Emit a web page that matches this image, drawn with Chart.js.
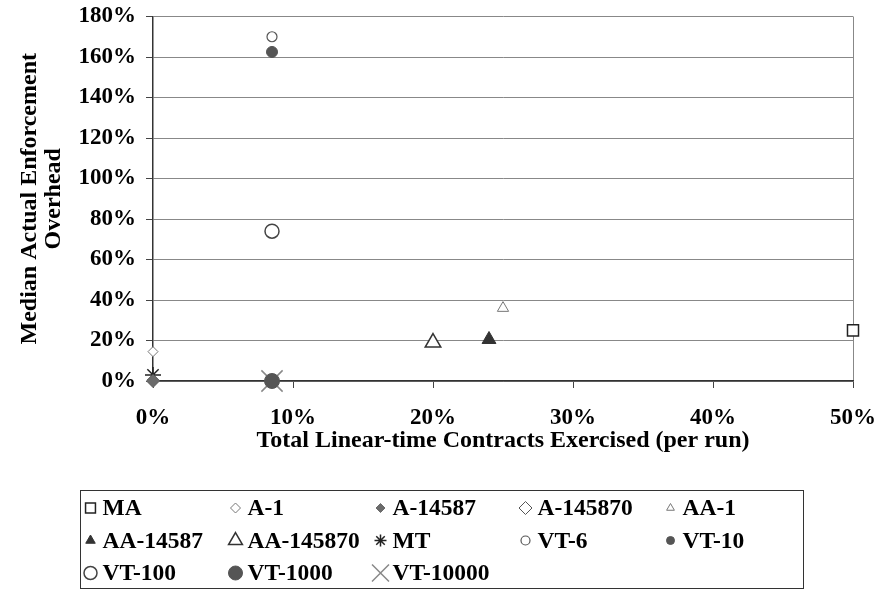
<!DOCTYPE html>
<html>
<head>
<meta charset="utf-8">
<title>Median Actual Enforcement Overhead</title>
<script src="https://cdn.jsdelivr.net/npm/chart.js@4.4.0/dist/chart.umd.min.js"></script>
<style>
    html, body { margin: 0; padding: 0; background: #fff; }
    #wrap { width: 878px; height: 592px; }
</style>
</head>
<body>
<div id="wrap"><canvas id="overheadChart" width="878" height="592"></canvas></div>
<script>
// === Data (in %) ===
const seriesNames = ["MA", "A-1", "A-14587", "A-145870", "AA-1",
                     "AA-14587", "AA-145870", "MT", "VT-6", "VT-10",
                     "VT-100", "VT-1000", "VT-10000"];
const contractsExercised = [50, 0, 0, 0, 25, 24, 20, 0, 8.5, 8.5, 8.5, 8.5, 8.5];
const medianOverhead = [25, 14.5, 0, 0, 36, 20.5, 19, 3, 170, 162.5, 74, 0, 0];
const xTickValues = [0, 10, 20, 30, 40, 50];
const yTickValues = [0, 20, 40, 60, 80, 100, 120, 140, 160, 180];

// marker look for each series: plot radius r, legend radius lr
const markerStyles = [
    { style: "rect",      r: 7.8, lr: 7,   fill: "#fff",    line: "#222", w: 1.5 },
    { style: "rectRot",   r: 5,   lr: 5,   fill: "#fff",    line: "#777", w: 1 },
    { style: "rectRot",   r: 6.5, lr: 4.5, fill: "#6b6b6b", line: "#6b6b6b", w: 1 },
    { style: "rectRot",   r: 6,   lr: 6.5, fill: "#fff",    line: "#555", w: 1 },
    { style: "triangle",  r: 6.5, lr: 4.5, fill: "#fff",    line: "#777", w: 1 },
    { style: "triangle",  r: 8,   lr: 5.5, fill: "#333",    line: "#333", w: 1 },
    { style: "triangle",  r: 9,   lr: 8,   fill: "#fff",    line: "#333", w: 1.5 },
    { style: "star",      r: 8,   lr: 6,   fill: "#fff",    line: "#222", w: 1.5 },
    { style: "circle",    r: 5,   lr: 4.5, fill: "#fff",    line: "#555", w: 1.2 },
    { style: "circle",    r: 5.5, lr: 4,   fill: "#555",    line: "#555", w: 1 },
    { style: "circle",    r: 7,   lr: 6.5, fill: "#fff",    line: "#444", w: 1.5 },
    { style: "circle",    r: 7.5, lr: 7,   fill: "#555",    line: "#555", w: 1 },
    { style: "crossRot",  r: 15,  lr: 12,  fill: "#fff",    line: "#888", w: 1.5 }
];

const serif = "'Liberation Serif', 'Times New Roman', serif";

// legend drawn as a 5 column grid in a box below the chart
const gridLegend = {
    id: "gridLegend",
    afterDraw(chart) {
        const ctx = chart.ctx;
        const box = { x: 80.5, y: 490.5, w: 723, h: 98 };
        ctx.save();
        ctx.strokeStyle = "#333";
        ctx.lineWidth = 1;
        ctx.strokeRect(box.x, box.y, box.w, box.h);
        ctx.font = "bold 23.5px " + serif;
        ctx.textBaseline = "middle";
        ctx.textAlign = "left";
        seriesNames.forEach((name, i) => {
            const col = i % 5;
            const row = Math.floor(i / 5);
            const mx = box.x + 10 + col * 145;
            const my = 508 + row * 32.5;
            const m = markerStyles[i];
            ctx.fillStyle = m.fill;
            ctx.strokeStyle = m.line;
            ctx.lineWidth = m.w;
            Chart.helpers.drawPoint(ctx, { pointStyle: m.style, radius: m.lr, borderWidth: m.w, rotation: 0 }, mx, my);
            ctx.fillStyle = "#000";
            ctx.fillText(name, mx + 12, my + 1);
        });
        ctx.restore();
    }
};

const datasets = seriesNames.map((name, i) => {
    const m = markerStyles[i];
    return {
        label: name,
        data: [{ x: contractsExercised[i], y: medianOverhead[i] }],
        clip: false,
        pointStyle: m.style,
        pointRadius: m.r,
        pointHoverRadius: m.r,
        pointBackgroundColor: m.fill,
        pointBorderColor: m.line,
        pointBorderWidth: m.w
    };
});

const ctx = document.getElementById("overheadChart").getContext("2d");
new Chart(ctx, {
    type: "scatter",
    data: { datasets: datasets },
    options: {
        responsive: false,
        animation: false,
        devicePixelRatio: 1,
        layout: { padding: { top: 13, right: 25, bottom: 130, left: 0 } },
        plugins: {
            legend: { display: false },
            tooltip: { enabled: false }
        },
        scales: {
            x: {
                type: "linear",
                min: 0,
                max: 50,
                afterBuildTicks: axis => { axis.ticks = xTickValues.map(v => ({ value: v })); },
                afterFit: axis => {
                    axis.height = 81;
                    axis.paddingLeft = 0;
                    axis.paddingRight = 0;
                },
                ticks: {
                    padding: 16,
                    color: "#000",
                    font: { family: serif, size: 23, weight: "bold" },
                    callback: v => v + "%"
                },
                grid: {
                    color: c => (c.tick && c.tick.value === 50 ? "#888" : "rgba(0,0,0,0)"),
                    tickColor: "#444",
                    tickLength: 7,
                    lineWidth: 1
                },
                border: { color: "#333", width: 1.5 },
                title: {
                    display: true,
                    text: "Total Linear-time Contracts Exercised (per run)",
                    color: "#000",
                    font: { family: serif, size: 24, weight: "bold" },
                    padding: { top: 0, bottom: 6.6 }
                }
            },
            y: {
                type: "linear",
                min: 0,
                max: 180,
                afterBuildTicks: axis => { axis.ticks = yTickValues.map(v => ({ value: v })); },
                afterFit: axis => {
                    axis.width = 153;
                    axis.paddingTop = 0;
                    axis.paddingBottom = 0;
                },
                ticks: {
                    padding: 10,
                    color: "#000",
                    font: { family: serif, size: 23, weight: "bold" },
                    callback: v => v + "%"
                },
                grid: {
                    color: "#888",
                    tickColor: "#444",
                    tickLength: 7,
                    lineWidth: 1
                },
                border: { color: "#333", width: 1.5 },
                title: {
                    display: true,
                    text: ["Median Actual Enforcement", "Overhead"],
                    color: "#000",
                    font: { family: serif, size: 24, weight: "bold", lineHeight: 1.0 },
                    padding: { top: 18, bottom: 0 }
                }
            }
        }
    },
    plugins: [gridLegend]
});
</script>
</body>
</html>
